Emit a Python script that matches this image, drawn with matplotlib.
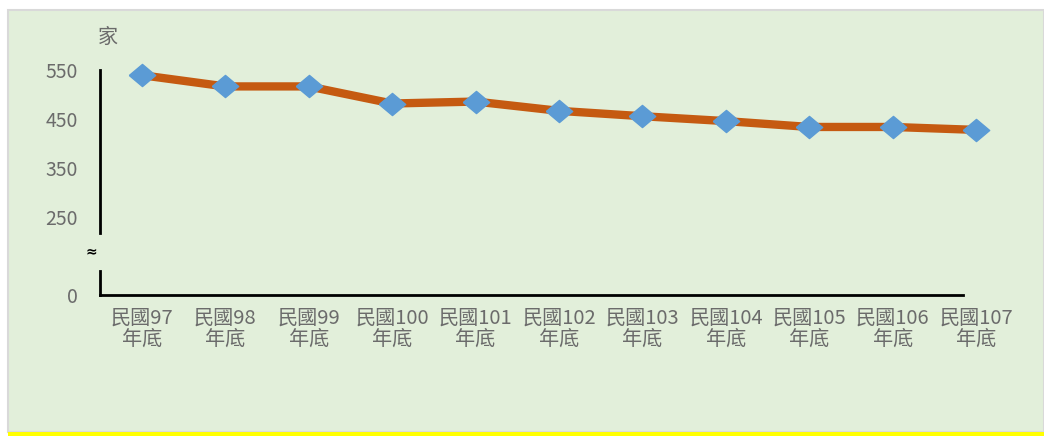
import numpy as np
import matplotlib.pyplot as plt
from matplotlib.patches import Rectangle

plt.rcParams['font.family'] = ['Noto Sans CJK TC', 'DejaVu Sans']

# data
years = ['民國97\n年底', '民國98\n年底', '民國99\n年底', '民國100\n年底', '民國101\n年底',
         '民國102\n年底', '民國103\n年底', '民國104\n年底', '民國105\n年底', '民國106\n年底',
         '民國107\n年底']
counts = [540, 517, 517, 482, 486, 467, 456, 446, 434, 434, 428]
y_ticks = [0, 250, 350, 450, 550]
unit_label = '家'

# broken axis: squeeze 0..250 into a short band
brk_in = [0, 250, 1000]
brk_out = [90, 250, 1000]


def fwd(v):
    return np.interp(v, brk_in, brk_out)


def inv(v):
    return np.interp(v, brk_out, brk_in)


W, H = 1044, 436
fig = plt.figure(figsize=(W / 100, H / 100), dpi=100)
fig.patch.set_facecolor('white')

# chart background panel
fig.patches.append(Rectangle((8 / W, 4 / H), 1 - 8 / W, (422 / H), transform=fig.transFigure,
                             facecolor='#E2EFDA', edgecolor='#D9D9D9', linewidth=1.5, zorder=-10))
fig.patches.append(Rectangle((8 / W, 0), 1 - 8 / W, 4 / H, transform=fig.transFigure,
                             facecolor='#FFFF00', edgecolor='none', zorder=-10))

ax = fig.add_axes([100 / W, (H - 295) / H, 918 / W, (295 - 70.3) / H])
ax.set_facecolor('none')
ax.set_yscale('function', functions=(fwd, inv))

x = np.arange(len(years))
ax.plot(x, counts, color='#C55A11', linewidth=6, zorder=3, clip_on=False,
        solid_capstyle='butt')
diamond = [(-1, 0), (0, 0.84), (1, 0), (0, -0.84), (-1, 0)]
ax.plot(x, counts, linestyle='none', marker=diamond, markersize=19,
        markerfacecolor='#5B9BD5', markeredgecolor='#5B9BD5', zorder=4, clip_on=False)

ax.set_xlim(-0.5, len(years) - 0.5)
ax.set_ylim(0, 550)
ax.set_xticks(x)
ax.set_xticklabels(years, fontsize=14.5, color='#6b6b6b', linespacing=1.0)
ax.set_yticks(y_ticks)
ax.set_yticklabels([str(t) for t in y_ticks], fontsize=14, color='#6b6b6b')
ax.tick_params(axis='both', length=0)
ax.tick_params(axis='y', pad=16)
ax.tick_params(axis='x', pad=9)

for s in ax.spines.values():
    s.set_visible(False)

# hand drawn axis lines with a break
tr = ax.get_yaxis_transform()
ax.plot([0, 0], [198, 550], color='black', linewidth=2, transform=tr, clip_on=False)
ax.plot([0, 0], [0, 77], color='black', linewidth=2, transform=tr, clip_on=False)
ax.plot([0, 0.94], [0, 0], color='black', linewidth=2, transform=tr, clip_on=False)
ax.text(-0.009, 141, '≈', transform=tr, ha='center', va='center', fontsize=10,
        fontweight='bold', color='black', family=['DejaVu Sans'])

fig.text(108 / W, 1 - 37 / H, unit_label, fontsize=14.5, color='#6b6b6b',
         ha='center', va='center')

fig.savefig('out.png', dpi=100)
